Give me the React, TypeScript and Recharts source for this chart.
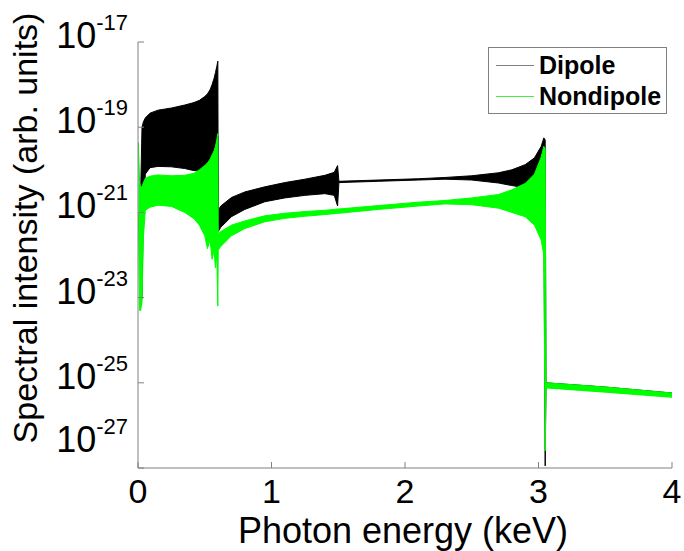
import React from 'react';
import { ComposedChart, Area, XAxis, YAxis, Legend } from 'recharts';

// Photon energy sample points (keV)
const energy = [
  0.003, 0.012, 0.02, 0.03, 0.04, 0.055, 0.09, 0.15, 0.25, 0.35, 0.42, 0.46, 0.5, 0.52, 0.54,
  0.555, 0.57, 0.58, 0.59, 0.598, 0.601, 0.62, 0.7, 0.8, 0.95, 1.1, 1.25, 1.4, 1.47, 1.495,
  1.505, 1.8, 2.1, 2.3, 2.5, 2.7, 2.8, 2.9, 2.97, 3.02, 3.04, 3.05, 3.056, 3.5, 4.0,
];

// log10 of spectral intensity: upper / lower envelope of the oscillating Dipole spectrum
const dipoleHighExp = [
  null, null, -20.5, -19.0, -18.88, -18.78, -18.67, -18.6, -18.55, -18.48, -18.42, -18.37, -18.28, -18.22, -18.12,
  -18.0, -17.85, -17.72, -17.58, -17.45, -20.95, -20.85, -20.65, -20.52, -20.4, -20.3, -20.22, -20.13, -20.06, -19.9,
  -20.27, -20.24, -20.21, -20.18, -20.14, -20.07, -20.0, -19.88, -19.72, -19.45, -19.25, -19.3, -25.0, -25.1, -25.24,
];
const dipoleLowExp = [
  null, null, -23.2, -23.0, -21.0, -20.1, -19.95, -19.92, -19.93, -19.97, -20.02, -20.02, -19.95, -19.85, -19.75,
  -19.65, -19.55, -19.45, -19.3, -19.2, -21.45, -21.35, -21.1, -20.93, -20.75, -20.66, -20.6, -20.56, -20.6, -20.85,
  -20.3, -20.27, -20.24, -20.22, -20.24, -20.31, -20.37, -20.42, -20.5, -20.6, -20.8, -26.95, -25.1, -25.2, -25.32,
];

// log10 of spectral intensity: upper / lower envelope of the Nondipole spectrum
const nondipoleHighExp = [
  -19.35, -20.3, -20.4, -20.4, -20.3, -20.2, -20.15, -20.12, -20.14, -20.13, -20.08, -20.0, -19.9, -19.84, -19.75,
  -19.65, -19.55, -19.45, -19.3, -19.15, -21.5, -21.45, -21.3, -21.2, -21.08, -21.02, -20.98, -20.95, -20.93, -20.92,
  -20.92, -20.84, -20.76, -20.72, -20.66, -20.58, -20.47, -20.32, -20.1, -19.7, -19.45, -19.5, -25.0, -25.1, -25.24,
];
const nondipoleLowExp = [
  -21.0, -23.3, -23.3, -23.1, -21.6, -20.95, -20.88, -20.83, -20.86, -21.0, -21.15, -21.3, -21.55, -21.85, -21.65,
  -22.1, -21.9, -22.3, -22.0, -23.2, -21.88, -21.8, -21.55, -21.38, -21.22, -21.14, -21.09, -21.05, -21.03, -21.02,
  -21.02, -20.93, -20.85, -20.8, -20.82, -20.9, -21.0, -21.1, -21.3, -21.65, -22.0, -26.6, -25.12, -25.22, -25.34,
];

const xTicks = [0, 1, 2, 3, 4];
const yTicks = [1e-17, 1e-19, 1e-21, 1e-23, 1e-25, 1e-27];
const seriesNames = ['Dipole', 'Nondipole'];
const seriesColors = ['#000000', '#00ff00'];
const legendLineColors = ['#808080', '#44f044'];

const data = energy.map((x, i) => ({
  x,
  dipole:
    dipoleHighExp[i] == null || dipoleLowExp[i] == null
      ? null
      : [Math.pow(10, dipoleLowExp[i] as number), Math.pow(10, dipoleHighExp[i] as number)],
  nondipole: [Math.pow(10, nondipoleLowExp[i]), Math.pow(10, nondipoleHighExp[i])],
}));

const FONT = '"Liberation Sans", Arial, Helvetica, sans-serif';
const AXIS = '#808080';
const W = 684;
const H = 551;

function BottomTick(props: any) {
  const { x, y, payload } = props;
  return (
    <g>
      <line x1={x} x2={x} y1={y} y2={y - 6} stroke={AXIS} strokeWidth={1} />
      <text x={x} y={y + 35} textAnchor="middle" fontFamily={FONT} fontSize={34} fill="#000">
        {payload.value}
      </text>
    </g>
  );
}

function TopTick(props: any) {
  const { x, y } = props;
  return <line x1={x} x2={x} y1={y} y2={y + 6} stroke={AXIS} strokeWidth={1} />;
}

function LeftTick(props: any) {
  const { x, y, payload } = props;
  const e = Math.round(Math.log10(payload.value));
  // the lowest label sits raised above the x tick labels
  const shift = e === -27 ? -22 : 0;
  return (
    <g>
      <line x1={x} x2={x + 6} y1={y} y2={y} stroke={AXIS} strokeWidth={1} />
      <text x={x - 10} y={y + 6 + shift} textAnchor="end" fontFamily={FONT} fill="#000">
        <tspan fontSize={36}>10</tspan>
        <tspan fontSize={22} dy={-18}>{String(e)}</tspan>
      </text>
    </g>
  );
}

function RightTick(props: any) {
  const { x, y } = props;
  return <line x1={x} x2={x - 6} y1={y} y2={y} stroke={AXIS} strokeWidth={1} />;
}

function XLabel(props: any) {
  const vb = props.viewBox || {};
  const cx = vb.width ? vb.x + vb.width / 2 - 2 : 403;
  return (
    <text x={cx} y={543} textAnchor="middle" fontFamily={FONT} fontSize={36} fill="#000">
      Photon energy (keV)
    </text>
  );
}

function YLabel() {
  return (
    <text
      x={37}
      y={228}
      transform="rotate(-90, 37, 228)"
      textAnchor="middle"
      fontFamily={FONT}
      fontSize={34}
      fill="#000"
    >
      Spectral intensity (arb. units)
    </text>
  );
}

function LegendBox() {
  return (
    <div
      style={{
        width: 179,
        height: 67,
        boxSizing: 'border-box',
        border: `1px solid ${AXIS}`,
        background: '#fff',
        fontFamily: FONT,
        fontWeight: 'bold',
        fontSize: 25,
        color: '#000',
        paddingTop: 2,
      }}
    >
      {seriesNames.map((n, i) => (
        <div key={n} style={{ display: 'flex', alignItems: 'center', height: 31 }}>
          <div style={{ width: 38, height: 1, background: legendLineColors[i], marginLeft: 7, marginRight: 5 }} />
          <span style={{ lineHeight: '31px' }}>{n}</span>
        </div>
      ))}
    </div>
  );
}

export default function App() {
  return (
    <div style={{ position: 'absolute', left: 0, top: 0, width: W, height: H, background: '#fff' }}>
      <ComposedChart
        width={W}
        height={H}
        data={data}
        margin={{ top: 42, right: 12, bottom: 0, left: 0 }}
      >
        <XAxis
          dataKey="x"
          type="number"
          domain={[0, 4]}
          ticks={xTicks}
          allowDataOverflow
          height={83}
          tickSize={0}
          tickMargin={0}
          tick={<BottomTick />}
          axisLine={{ stroke: AXIS }}
          tickLine={false}
          interval={0}
          label={<XLabel />}
        />
        <XAxis
          xAxisId="top"
          dataKey="x"
          type="number"
          orientation="top"
          domain={[0, 4]}
          ticks={xTicks}
          allowDataOverflow
          height={0}
          tickSize={0}
          tickMargin={0}
          tick={<TopTick />}
          axisLine={{ stroke: AXIS }}
          tickLine={false}
          interval={0}
        />
        <YAxis
          type="number"
          scale="log"
          domain={[1e-27, 1e-17]}
          ticks={yTicks}
          allowDataOverflow
          width={138}
          tickSize={0}
          tickMargin={0}
          tick={<LeftTick />}
          axisLine={{ stroke: AXIS }}
          tickLine={false}
          interval={0}
          label={<YLabel />}
        />
        <YAxis
          yAxisId="right"
          orientation="right"
          type="number"
          scale="log"
          domain={[1e-27, 1e-17]}
          ticks={yTicks}
          allowDataOverflow
          width={0}
          tickSize={0}
          tickMargin={0}
          tick={<RightTick />}
          axisLine={{ stroke: AXIS }}
          tickLine={false}
          interval={0}
        />
        <Legend
          layout="horizontal"
          verticalAlign="middle"
          align="center"
          wrapperStyle={{ position: 'absolute', top: 47, left: 488, width: 179 }}
          content={<LegendBox />}
        />
        <Area
          dataKey="dipole"
          name={seriesNames[0]}
          type="linear"
          stroke={seriesColors[0]}
          strokeWidth={1}
          fill={seriesColors[0]}
          fillOpacity={1}
          isAnimationActive={false}
          dot={false}
          activeDot={false}
        />
        <Area
          dataKey="nondipole"
          name={seriesNames[1]}
          type="linear"
          stroke={seriesColors[1]}
          strokeWidth={1}
          fill={seriesColors[1]}
          fillOpacity={1}
          isAnimationActive={false}
          dot={false}
          activeDot={false}
        />
      </ComposedChart>
    </div>
  );
}
